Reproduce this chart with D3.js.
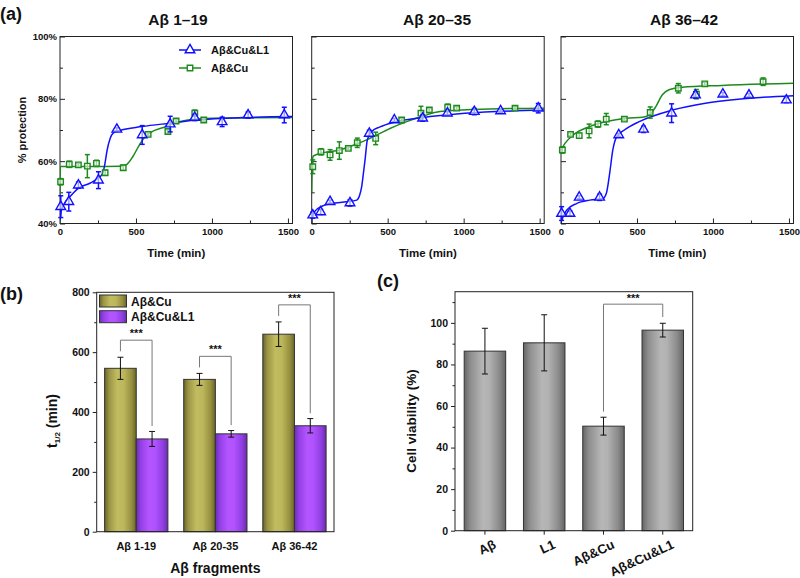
<!DOCTYPE html>
<html><head><meta charset="utf-8">
<script src="https://cdn.jsdelivr.net/npm/d3@7"></script>
<style>
body{margin:0;background:#fff}
svg{font-family:"Liberation Sans",Arial,sans-serif;font-weight:bold}
</style>
</head><body>
<svg id="chart" width="800" height="578"></svg>
<script>
// ---------- Panel (a) data : [time(min), % protection, error] ----------
const kinTitles = ["Aβ 1–19", "Aβ 20–35", "Aβ 36–42"];
const seriesNames = ["Aβ&Cu&L1", "Aβ&Cu"];
const blue1 = [[5,45.4,3.5],[58,47,3],[121,52.3,1],[253,53.9,2.7],[374,70.2,0.5],[541,68.4,3],[725,71.9,2.5],[887,74,1],[1067,72.6,1.5],[1238,74.8,1],[1476,74.8,2.5]];
const green1 = [[4,53.4,1],[61,59,1],[121,58.8,0.5],[180,58.4,3.7],[240,59.3,1],[297,56.3,0.8],[416,57.9,0.8],[580,68.6,0.5],[710,69.5,0.5],[764,72.9,0.5],[887,75.4,1],[946,73.2,0.5]];
const blue2 = [[7,42.7,1],[59,43.7,0.8],[121,47,0.5],[252,46.6,1],[379,68.9,1],[544,73.2,0.5],[730,73.8,1],[893,75.4,0.5],[1070,75.9,1],[1243,76.1,0.5],[1491,77,1.5]];
const green2 = [[7,58.2,2.2],[61,63,1],[121,62,1.7],[182,63.4,2.8],[241,64.1,0.5],[300,65.9,1.5],[421,67.3,2],[592,73.2,0.5],[719,75.4,2.2],[774,76.4,0.5],[895,77.3,1],[954,77,0.5],[1338,77,0.5]];
const blue3 = [[4,43.2,2.2],[59,43.2,0.8],[120,48.4,0.5],[254,48.4,1],[380,68.4,0.5],[543,70.2,1],[728,75.4,3],[885,81.2,1],[1065,81.5,0.5],[1237,81.2,0.5],[1483,79.6,0.8]];
const green3 = [[9,63.6,1],[63,68.6,0.5],[120,68.2,0.8],[185,69.7,2.2],[243,71.9,1],[298,73.5,1.8],[417,73.5,0.5],[587,75.6,1.8],[772,83.4,1.5],[891,81.5,1.5],[946,84.8,0.5],[1330,85.5,1.2]];
// fitted curves
const blueFit1 = [[0,41],[8,44],[30,46.5],[60,48.3],[120,51.3],[200,53],[250,54.5],[280,56],[295,59],[310,63.5],[330,67.3],[350,69],[390,69.8],[540,71.1],[725,72.2],[900,73.2],[1200,74],[1530,74.3]];
const greenFit1 = [[0,40],[2,58.3],[200,58.3],[400,58.4],[440,59],[480,61.5],[520,65],[560,67.8],[600,69.3],[680,70.8],[760,72.3],[850,73.3],[1000,73.8],[1530,74]];
const blueFit2 = [[0,41.6],[15,43.5],[40,44.8],[80,45.8],[120,46.3],[200,46.8],[296,47.5],[315,49],[329,51.8],[340,56],[351,60.4],[366,66.8],[395,69.5],[450,71],[544,72.5],[735,74],[954,75.1],[1217,75.9],[1530,76.4]];
const greenFit2 = [[0,50],[5,60],[10,61.6],[55,62.5],[186,63.6],[296,65.5],[384,67.3],[515,70.5],[625,72.7],[735,74.5],[844,75.9],[1064,76.6],[1530,77]];
const blueFit3 = [[0,40.5],[37,44.3],[102,46.4],[189,47.5],[276,48],[298,49.6],[320,56],[341,63.6],[367,67.9],[417,70],[515,72.7],[733,76.4],[950,78.6],[1167,79.9],[1530,81]];
const greenFit3 = [[0,63.6],[26,65.7],[80,68.4],[189,71.1],[298,72.7],[428,73.8],[537,74.1],[580,74.8],[624,77.5],[667,81.3],[711,82.9],[798,83.7],[1059,84.3],[1530,85]];

// ---------- Panel (b) data ----------
const fragments = ["Aβ 1-19", "Aβ 20-35", "Aβ 36-42"];
const halfCu = [546, 509, 660];
const halfCuErr = [37, 20, 41];
const halfL1 = [310, 327, 354];
const halfL1Err = [25, 11, 24];
const bSeries = ["Aβ&Cu", "Aβ&Cu&L1"];

// ---------- Panel (c) data ----------
const treatments = ["Aβ", "L1", "Aβ&Cu", "Aβ&Cu&L1"];
const viability = [86.4, 90.4, 50.3, 96.5];
const viabilityErr = [11, 13.5, 4.3, 3.3];

// =====================================================
const svg = d3.select("#chart");
const BLUE = "#1010ff", GREEN = "#1e8a1e", AXIS = "#222";
const defs = svg.append("defs");
function grad(id, stops) {
  const g = defs.append("linearGradient").attr("id", id).attr("x1", 0).attr("x2", 1).attr("y1", 0).attr("y2", 0);
  stops.forEach(s => g.append("stop").attr("offset", s[0]).attr("stop-color", s[1]));
}
grad("gOlive", [[0,"#6a662a"],[0.15,"#9c9646"],[0.4,"#c2bc60"],[0.6,"#bdb75c"],[0.85,"#969040"],[1,"#6a662a"]]);
grad("gPurple", [[0,"#6c2eb0"],[0.15,"#9440e8"],[0.4,"#b455ff"],[0.6,"#b052ff"],[0.85,"#8e3ee0"],[1,"#6a2cac"]]);
grad("gGray", [[0,"#666"],[0.15,"#8e8e8e"],[0.45,"#b6b6b6"],[0.6,"#b2b2b2"],[0.85,"#8a8a8a"],[1,"#646464"]]);

// panel letters
[["(a)", 0, 20], ["(b)", 0, 300], ["(c)", 377, 287]].forEach(d => {
  svg.append("text").attr("x", d[1]).attr("y", d[2]).attr("font-size", 18).attr("fill", "#111").text(d[0]);
});

// ---------- Panel (a) ----------
const kinData = [[blue1, green1, blueFit1, greenFit1], [blue2, green2, blueFit2, greenFit2], [blue3, green3, blueFit3, greenFit3]];
const kinX0 = [60, 311.7, 561];
const titleX = [178, 437, 684];
const kinW = 232.5;
const yK = d3.scaleLinear().domain([40, 100]).range([223.5, 36.5]);

kinData.forEach((dset, i) => {
  const g = svg.append("g");
  const x = d3.scaleLinear().domain([0, 1530]).range([kinX0[i], kinX0[i] + kinW]);
  const cid = "clip" + i;
  defs.append("clipPath").attr("id", cid).append("rect")
    .attr("x", x(0)).attr("y", yK(100)).attr("width", kinW).attr("height", yK(40) - yK(100));

  g.append("g").attr("transform", `translate(${x(0)},0)`)
    .call(d3.axisLeft(yK).tickValues([50, 70, 90]).tickSize(-3).tickFormat(""))
    .call(s => s.select(".domain").remove()).selectAll("line").attr("stroke", AXIS);
  const ya = g.append("g").attr("transform", `translate(${x(0)},0)`)
    .call(d3.axisLeft(yK).tickValues([40, 60, 80, 100]).tickSize(-5).tickPadding(3)
      .tickFormat(i === 0 ? (d => d + "%") : ""));
  ya.select(".domain").remove();
  ya.selectAll("line").attr("stroke", AXIS);
  ya.selectAll("text").attr("font-size", 9.5).attr("font-family", "Liberation Sans").attr("font-weight", "bold").attr("fill", "#111");

  g.append("g").attr("transform", `translate(0,${yK(40)})`)
    .call(d3.axisBottom(x).tickValues([250, 750, 1250]).tickSize(-3).tickFormat(""))
    .call(s => s.select(".domain").remove()).selectAll("line").attr("stroke", AXIS);
  const xa = g.append("g").attr("transform", `translate(0,${yK(40)})`)
    .call(d3.axisBottom(x).tickValues([0, 500, 1000, 1500]).tickSize(-5).tickPadding(5).tickFormat(d3.format("d")));
  xa.select(".domain").remove();
  xa.selectAll("line").attr("stroke", AXIS);
  xa.selectAll("text").attr("font-size", 9.5).attr("font-family", "Liberation Sans").attr("font-weight", "bold").attr("fill", "#111");

  g.append("rect").attr("x", x(0)).attr("y", yK(100)).attr("width", kinW).attr("height", yK(40) - yK(100))
    .attr("fill", "none").attr("stroke", AXIS).attr("stroke-width", 1);

  g.append("text").attr("x", titleX[i]).attr("y", 25).attr("text-anchor", "middle").attr("font-size", 15.5).attr("fill", "#111").text(kinTitles[i]);
  g.append("text").attr("x", x(0) + kinW / 2).attr("y", 257).attr("text-anchor", "middle").attr("font-size", 11.5).attr("fill", "#111").text("Time (min)");

  const line = d3.line().x(d => x(d[0])).y(d => yK(d[1])).curve(d3.curveMonotoneX);
  const lg = g.append("g").attr("clip-path", `url(#${cid})`);
  lg.append("path").attr("d", line(dset[3])).attr("fill", "none").attr("stroke", GREEN).attr("stroke-width", 1.5);
  lg.append("path").attr("d", line(dset[2])).attr("fill", "none").attr("stroke", BLUE).attr("stroke-width", 1.5);

  const drawPts = (pts, color, sym, size) => {
    const pg = g.append("g");
    pts.forEach(p => {
      const cx = x(p[0]), cy = yK(p[1]), e = p[2];
      const top = yK(p[1] + e), bot = yK(p[1] - e);
      pg.append("line").attr("x1", cx).attr("x2", cx).attr("y1", top).attr("y2", bot).attr("stroke", color).attr("stroke-width", 1.5);
      [top, bot].forEach(yy => pg.append("line").attr("x1", cx - 2.5).attr("x2", cx + 2.5).attr("y1", yy).attr("y2", yy).attr("stroke", color).attr("stroke-width", 1.5));
      pg.append("path").attr("d", d3.symbol().type(sym).size(size)()).attr("transform", `translate(${cx},${cy})`)
        .attr("fill", "#fff").attr("fill-opacity", 0.6).attr("stroke", color).attr("stroke-width", 1.4);
    });
  };
  drawPts(dset[1], GREEN, d3.symbolSquare, 30);
  drawPts(dset[0], BLUE, d3.symbolTriangle, 40);

  if (i === 0) {
    g.append("text").attr("transform", `translate(26,130) rotate(-90)`).attr("text-anchor", "middle")
      .attr("font-size", 11).attr("fill", "#111").text("% protection");
    const leg = [[BLUE, d3.symbolTriangle, 40, 50], [GREEN, d3.symbolSquare, 30, 68]];
    leg.forEach((l, k) => {
      g.append("line").attr("x1", 179).attr("x2", 201).attr("y1", l[3]).attr("y2", l[3]).attr("stroke", l[0]).attr("stroke-width", 1.5);
      g.append("path").attr("d", d3.symbol().type(l[1]).size(l[2])()).attr("transform", `translate(190,${l[3]})`)
        .attr("fill", "#fff").attr("stroke", l[0]).attr("stroke-width", 1.4);
      g.append("text").attr("x", 211).attr("y", l[3] + 4).attr("font-size", 11).attr("fill", "#111").text(seriesNames[k]);
    });
  }
});

// ---------- Panel (b) ----------
{
  const g = svg.append("g");
  const left = 96.7, right = 334;
  const y = d3.scaleLinear().domain([0, 800]).range([531.7, 292.3]);
  const x0 = d3.scaleBand().domain(fragments).range([left, right]).paddingInner(0.2).paddingOuter(0.1);
  const x1 = d3.scaleBand().domain(bSeries).range([0, x0.bandwidth()]);
  const vals = [halfCu, halfL1], errs = [halfCuErr, halfL1Err], fills = ["url(#gOlive)", "url(#gPurple)"];

  fragments.forEach((f, i) => {
    bSeries.forEach((s, k) => {
      const bx = x0(f) + x1(s), v = vals[k][i], e = errs[k][i], cx = bx + x1.bandwidth() / 2;
      g.append("rect").attr("x", bx).attr("y", y(v)).attr("width", x1.bandwidth()).attr("height", y(0) - y(v))
        .attr("fill", fills[k]).attr("stroke", "#333").attr("stroke-width", 1);
      g.append("line").attr("x1", cx).attr("x2", cx).attr("y1", y(v + e)).attr("y2", y(v - e)).attr("stroke", "#111").attr("stroke-width", 1);
      [v + e, v - e].forEach(yy => g.append("line").attr("x1", cx - 3).attr("x2", cx + 3).attr("y1", y(yy)).attr("y2", y(yy)).attr("stroke", "#111").attr("stroke-width", 1));
    });
    const lx = x0(f) + x1("Aβ&Cu") + x1.bandwidth() / 2, rx = x0(f) + x1("Aβ&Cu&L1") + x1.bandwidth() / 2;
    const topCu = halfCu[i] + halfCuErr[i], topL1 = halfL1[i] + halfL1Err[i];
    const by = topCu + 57;
    g.append("path").attr("d", `M${lx},${y(topCu + 20)}V${y(by)}H${rx}V${y(topL1 + 18)}`)
      .attr("fill", "none").attr("stroke", "#777").attr("stroke-width", 1);
    g.append("text").attr("x", (lx + rx) / 2).attr("y", y(by) - 3).attr("text-anchor", "middle").attr("font-size", 11).attr("fill", "#111").text("***");
  });

  g.append("g").attr("transform", `translate(${left},0)`)
    .call(d3.axisLeft(y).tickValues([100, 300, 500, 700]).tickSize(2.5).tickFormat(""))
    .call(s => s.select(".domain").remove()).selectAll("line").attr("stroke", AXIS);
  const ya = g.append("g").attr("transform", `translate(${left},0)`)
    .call(d3.axisLeft(y).tickValues([0, 200, 400, 600, 800]).tickSize(4).tickPadding(3));
  ya.select(".domain").remove();
  ya.selectAll("line").attr("stroke", AXIS);
  ya.selectAll("text").attr("font-size", 10.5).attr("font-family", "Liberation Sans").attr("font-weight", "bold").attr("fill", "#111");

  const xa = g.append("g").attr("transform", `translate(0,${y(0)})`)
    .call(d3.axisBottom(x0).tickSize(0).tickPadding(11));
  xa.select(".domain").remove();
  xa.selectAll("text").attr("font-size", 11).attr("font-family", "Liberation Sans").attr("font-weight", "bold").attr("fill", "#111");

  g.append("rect").attr("x", left).attr("y", y(800)).attr("width", right - left).attr("height", y(0) - y(800))
    .attr("fill", "none").attr("stroke", AXIS).attr("stroke-width", 1);

  bSeries.forEach((s, k) => {
    const ly = 295 + k * 15.7;
    g.append("rect").attr("x", 99.5).attr("y", ly).attr("width", 27).attr("height", 12).attr("fill", fills[k]).attr("stroke", "#333");
    g.append("text").attr("x", 131).attr("y", ly + 10.5).attr("font-size", 12).attr("fill", "#111").text(s);
  });

  g.append("text").attr("x", (left + right) / 2).attr("y", 573).attr("text-anchor", "middle").attr("font-size", 14).attr("fill", "#111").text("Aβ fragments");
  const yl = g.append("text").attr("transform", `translate(57,421) rotate(-90)`).attr("text-anchor", "middle").attr("font-size", 14).attr("fill", "#111");
  yl.append("tspan").text("t");
  yl.append("tspan").attr("font-size", 8).attr("dy", 3).text("1/2");
  yl.append("tspan").attr("dy", -3).text(" (min)");
}

// ---------- Panel (c) ----------
{
  const g = svg.append("g");
  const left = 455, right = 692.7;
  const y = d3.scaleLinear().domain([0, 115]).range([530.7, 291.7]);
  const x = d3.scaleBand().domain(treatments).range([left, right]).paddingInner(0.3).paddingOuter(0.155);

  treatments.forEach((t, i) => {
    const bx = x(t), v = viability[i], e = viabilityErr[i], cx = bx + x.bandwidth() / 2;
    g.append("rect").attr("x", bx).attr("y", y(v)).attr("width", x.bandwidth()).attr("height", y(0) - y(v))
      .attr("fill", "url(#gGray)").attr("stroke", "#333").attr("stroke-width", 1);
    g.append("line").attr("x1", cx).attr("x2", cx).attr("y1", y(v + e)).attr("y2", y(v - e)).attr("stroke", "#111").attr("stroke-width", 1);
    [v + e, v - e].forEach(yy => g.append("line").attr("x1", cx - 3).attr("x2", cx + 3).attr("y1", y(yy)).attr("y2", y(yy)).attr("stroke", "#111").attr("stroke-width", 1));
  });

  const lx = x("Aβ&Cu") + x.bandwidth() / 2, rx = x("Aβ&Cu&L1") + x.bandwidth() / 2;
  g.append("path").attr("d", `M${lx},${y(viability[2] + viabilityErr[2] + 2.7)}V${y(109)}H${rx}V${y(viability[3] + viabilityErr[3] + 3)}`)
    .attr("fill", "none").attr("stroke", "#777").attr("stroke-width", 1);
  g.append("text").attr("x", (lx + rx) / 2).attr("y", y(109) - 2.5).attr("text-anchor", "middle").attr("font-size", 11).attr("fill", "#111").text("***");

  g.append("g").attr("transform", `translate(${left},0)`)
    .call(d3.axisLeft(y).tickValues([10, 30, 50, 70, 90, 110]).tickSize(2.5).tickFormat(""))
    .call(s => s.select(".domain").remove()).selectAll("line").attr("stroke", AXIS);
  const ya = g.append("g").attr("transform", `translate(${left},0)`)
    .call(d3.axisLeft(y).tickValues([0, 20, 40, 60, 80, 100]).tickSize(4).tickPadding(3));
  ya.select(".domain").remove();
  ya.selectAll("line").attr("stroke", AXIS);
  ya.selectAll("text").attr("font-size", 10.5).attr("font-family", "Liberation Sans").attr("font-weight", "bold").attr("fill", "#111");

  const xa = g.append("g").attr("transform", `translate(0,${y(0)})`)
    .call(d3.axisBottom(x).tickSize(4).tickFormat(""));
  xa.select(".domain").remove();
  xa.selectAll("line").attr("stroke", AXIS);
  treatments.forEach(t => {
    const cx = x(t) + x.bandwidth() / 2;
    g.append("text").attr("transform", `translate(${cx + 12},${y(0) + 17}) rotate(-25)`).attr("text-anchor", "end")
      .attr("font-size", 13).attr("fill", "#111").text(t);
  });

  g.append("rect").attr("x", left).attr("y", y(115)).attr("width", right - left).attr("height", y(0) - y(115))
    .attr("fill", "none").attr("stroke", AXIS).attr("stroke-width", 1);

  g.append("text").attr("transform", `translate(416,421) rotate(-90)`).attr("text-anchor", "middle")
    .attr("font-size", 13.5).attr("fill", "#111").text("Cell viability (%)");
}
</script>
</body></html>
